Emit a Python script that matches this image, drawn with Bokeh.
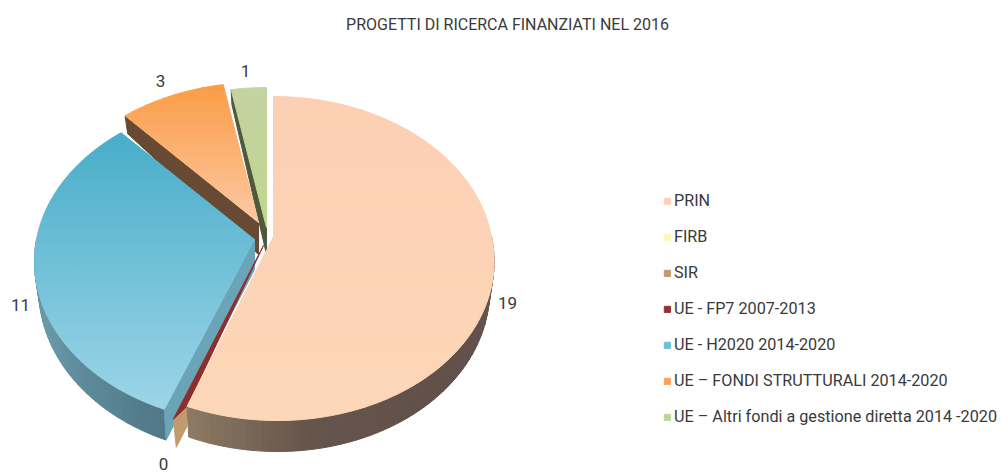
import numpy as np
from bokeh.plotting import figure
from bokeh.models import Range1d, Legend, LegendItem, ColumnDataSource
from bokeh.core.properties import value
from bokeh.embed import file_html
from bokeh.resources import INLINE

# ---------- data ----------
categories = ["PRIN", "FIRB", "SIR", "UE - FP7 2007-2013", "UE - H2020 2014-2020",
              "UE – FONDI STRUTTURALI 2014-2020", "UE – Altri fondi a gestione diretta 2014 -2020"]
values = [19, 0, 0, 0, 11, 3, 1]
legend_colors = ["#fdd0b5", "#fbf9b8", "#c29a6e", "#953134", "#6cc0d8", "#fba35f", "#c0d59b"]
title_text = "PROGETTI DI RICERCA FINANZIATI NEL 2016"
shown_labels = ["19", "0", "11", "3", "1"]

# ---------- styling and layout ----------
FONT = "Roboto"
TXT = "#3a3a3a"
W, H = 1001, 472
top_grad = {"PRIN": ("#fdcfb4", "#fcd7b8"),
            "H2020": ("#48adc9", "#9dd5e8"),
            "ORANGE": ("#fb9c46", "#fcc9a3"),
            "GREEN": ("#c5d2a2", "#bfd68e")}
rim_stops = {"PRIN": ["#6e5d50", "#62514a", "#62514a", "#66554b", "#8d7a65"],
             "H2020": ["#4f7786", "#5d8a99", "#6a9aa9", "#5f8e9c"]}
RX, A_Y, K = 218.0, 159.0, 0.136
BOTTOM_INSET = 0.98
SHEAR = {"PRIN": 4.0}


def hex2rgb(h):
    return np.array([int(h[i:i + 2], 16) for i in (1, 3, 5)], float)


def rgb2hex(r):
    return "#%02x%02x%02x" % tuple(int(round(v)) for v in r)


def mix(c0, c1, t):
    t = float(np.clip(t, 0, 1))
    return rgb2hex(hex2rgb(c0) * (1 - t) + hex2rgb(c1) * t)


def ramp(stops, t):
    pos = t * (len(stops) - 1)
    i = min(int(pos), len(stops) - 2)
    return mix(stops[i], stops[i + 1], pos - i)


def rim_pt(key, apex, theta):
    """Perspective projection of a rim point (theta clockwise from the top)."""
    x, y = np.sin(theta), np.cos(theta)
    w = 1 + K * y
    return apex[0] + RX * x / w + SHEAR.get(key, 0) * max(0, -y), apex[1] - A_Y * y / w


def depth(theta):
    y = np.cos(theta)
    return 28 - 3 * y if y < 0 else 28 - 13.5 * y


def low_pt(key, apex, theta):
    x, y = rim_pt(key, apex, theta)
    return apex[0] + (x - apex[0]) * BOTTOM_INSET, y + depth(theta)


def clip_band(poly, y0, y1):
    def clip(pts, inside, ycut):
        out = []
        for i in range(len(pts)):
            a, b = pts[i], pts[(i + 1) % len(pts)]
            ia, ib = inside(a), inside(b)
            if ia:
                out.append(a)
            if ia != ib:
                t = (ycut - a[1]) / (b[1] - a[1])
                out.append((a[0] + t * (b[0] - a[0]), ycut))
        return out
    pts = clip(poly, lambda p: p[1] >= y0, y0)
    if pts:
        pts = clip(pts, lambda p: p[1] <= y1, y1)
    return pts


p = figure(width=W, height=H, x_range=Range1d(0, W), y_range=Range1d(H, 0),
           output_backend="svg", toolbar_location=None, min_border=0,
           outline_line_color=None, background_fill_color="white", border_fill_color="white")
p.axis.visible = False
p.grid.visible = False

total = sum(values)
edges = np.concatenate([[0], np.cumsum(values)]) / total * 2 * np.pi
ang = {c: (edges[i], edges[i + 1]) for i, c in enumerate(categories)}
prin_a = ang["PRIN"]
h20_a = ang["UE - H2020 2014-2020"]
org_a = ang["UE – FONDI STRUTTURALI 2014-2020"]
grn_a = ang["UE – Altri fondi a gestione diretta 2014 -2020"]
APEX = {"PRIN": (273, 236), "H2020": (254, 239), "ORANGE": (258, 222), "GREEN": (266, 227)}
APEX_D = {"PRIN": 30, "H2020": 30, "ORANGE": 32, "GREEN": 27}

xs_all, ys_all, col_all = [], [], []


def add(poly, color):
    xs_all.append([q[0] for q in poly])
    ys_all.append([q[1] for q in poly])
    col_all.append(color)


def draw_rim(key, a0, a1):
    ap = APEX[key]
    n = max(2, int((a1 - a0) / 0.03))
    th = np.linspace(a0, a1, n + 1)
    for i in range(n):
        t0, t1 = th[i], th[i + 1]
        f = (i + .5) / n
        add([rim_pt(key, ap, t0), rim_pt(key, ap, t1), low_pt(key, ap, t1), low_pt(key, ap, t0)],
            ramp(rim_stops[key], f))


def draw_radial(key, theta, color):
    ap = APEX[key]
    add([ap, rim_pt(key, ap, theta), low_pt(key, ap, theta), (ap[0], ap[1] + APEX_D[key])], color)


def draw_top(key, a0, a1, nb=40):
    ap = APEX[key]
    nseg = int(np.ceil((a1 - a0) / (np.pi / 3)))
    bounds = np.linspace(a0, a1, nseg + 1)
    polys = []
    for s in range(nseg):
        th = np.linspace(bounds[s], bounds[s + 1], 40)
        polys.append([ap] + [rim_pt(key, ap, t) for t in th])
    allp = np.array([q for pl in polys for q in pl])
    yb = np.linspace(allp[:, 1].min(), allp[:, 1].max(), nb + 1)
    for poly in polys:
        for j in range(nb):
            c = clip_band(poly, yb[j], yb[j + 1])
            if len(c) >= 3:
                add(c, mix(*top_grad[key], (j + .5) / nb))


# back to front
draw_radial("GREEN", grn_a[0], "#4f5a3c")
draw_top("GREEN", *grn_a, nb=12)
draw_radial("ORANGE", org_a[0], "#664a33")
draw_top("ORANGE", *org_a)

draw_rim("H2020", h20_a[0], np.pi * 1.5)
draw_radial("H2020", h20_a[0], "#6ba4b7")
draw_top("H2020", *h20_a)

# the zero-valued slices only show as thin faces next to PRIN
zero_apex = (263, 245)
corner = rim_pt("PRIN", APEX["PRIN"], prin_a[1])
zr = rim_pt("SIR", zero_apex, ang["SIR"][0])
zr = (zr[0], zr[1] + 4)
add([zr, corner, (corner[0], corner[1] + 20), (zr[0] + 3, zr[1] + 28)], "#c29a6e")
add([zero_apex, zr, corner], "#8c2f2c")

draw_rim("PRIN", np.pi / 2, prin_a[1])
draw_top("PRIN", *prin_a, nb=24)

src = ColumnDataSource(dict(xs=xs_all, ys=ys_all, c=col_all))
p.patches("xs", "ys", source=src, fill_color="c", line_color="c", line_width=1)

# ---------- title and value labels ----------
lab_x = [507, 163, 20, 160, 245]
lab_y = [302, 463, 304, 80, 70]
p.text(x=lab_x, y=lab_y, text=shown_labels, text_font=value(FONT), text_font_size="17px",
       text_color=TXT, text_align="center", text_baseline="middle")
p.text(x=[507], y=[24], text=[title_text], text_font=value(FONT), text_font_size="16px",
       text_color=TXT, text_align="center", text_baseline="middle")

# ---------- legend ----------
items = []
for c, col in zip(categories, legend_colors):
    r = p.quad(left=[np.nan], right=[np.nan], top=[np.nan], bottom=[np.nan],
               fill_color=col, line_color=col)
    items.append(LegendItem(label=c, renderers=[r]))
leg = Legend(items=items, location=(663, 46), orientation="vertical",
             glyph_width=8, glyph_height=8, label_standoff=3, spacing=17,
             label_text_font=FONT, label_text_font_size="16.2px", label_text_color=TXT,
             background_fill_alpha=0, border_line_color=None, margin=0, padding=0)
p.add_layout(leg, "center")

open("out.html", "w").write(file_html(p, INLINE))
